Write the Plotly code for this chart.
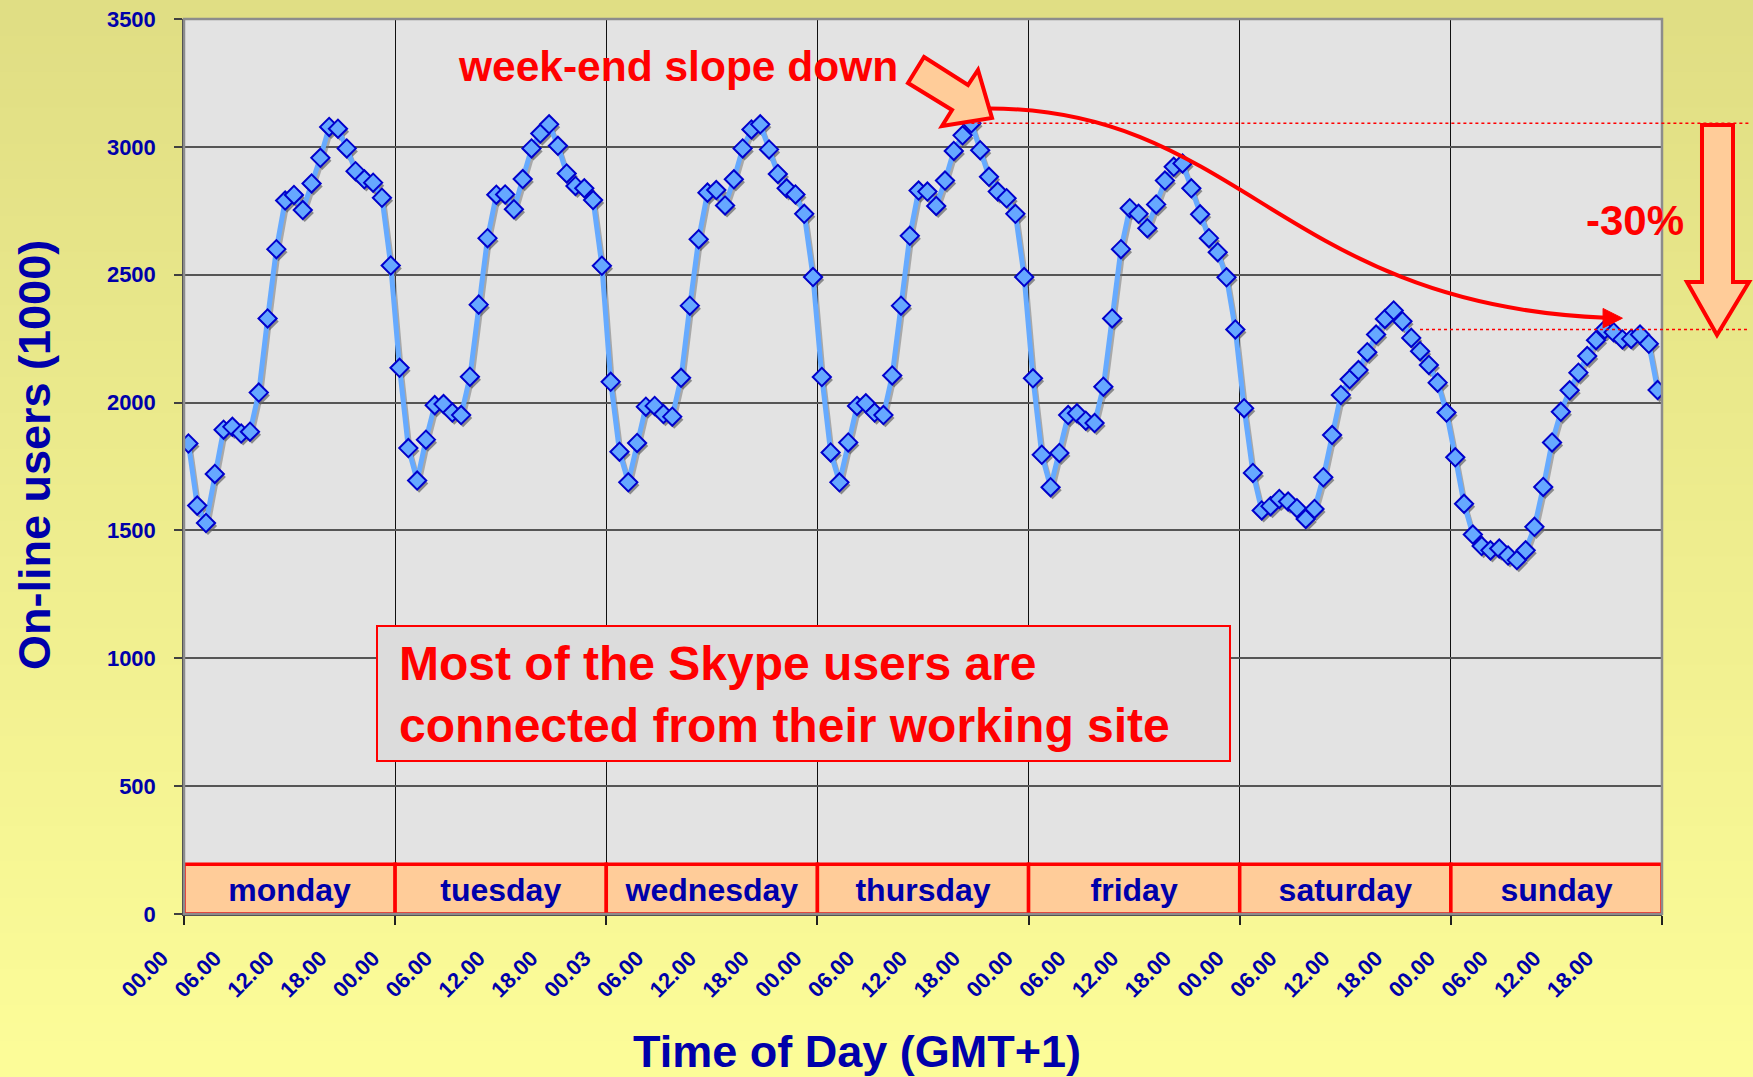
import numpy as np
import plotly.graph_objects as go

# on-line users (thousands), one value per hour, GMT+1
monday = [1840, 1597, 1529, 1721, 1894, 1905, 1879, 1886, 2039, 2329, 2600, 2790,
          2812, 2753, 2857, 2957, 3078, 3071, 2994, 2905, 2873, 2860, 2801, 2536]
tuesday = [2136, 1822, 1695, 1855, 1990, 1994, 1961, 1951, 2101, 2383, 2643, 2813,
           2814, 2756, 2874, 2994, 3052, 3088, 3004, 2896, 2847, 2838, 2792, 2535]
wednesday = [2081, 1808, 1688, 1842, 1984, 1987, 1955, 1945, 2097, 2379, 2639, 2821,
             2831, 2771, 2873, 2994, 3068, 3088, 2990, 2894, 2838, 2814, 2738, 2491]
thursday = [2100, 1805, 1688, 1844, 1987, 1997, 1961, 1951, 2106, 2379, 2652, 2829,
            2825, 2769, 2868, 2984, 3045, 3092, 2987, 2883, 2825, 2799, 2738, 2491]
friday = [2095, 1796, 1669, 1803, 1951, 1958, 1929, 1920, 2062, 2329, 2600, 2760,
          2738, 2682, 2775, 2868, 2922, 2935, 2838, 2736, 2643, 2588, 2490, 2286]
saturday = [1978, 1725, 1578, 1595, 1623, 1613, 1587, 1545, 1584, 1708, 1873, 2030,
            2091, 2127, 2197, 2266, 2327, 2360, 2318, 2253, 2201, 2147, 2078, 1961]
sunday = [1786, 1604, 1484, 1439, 1422, 1429, 1402, 1384, 1422, 1514, 1670, 1844,
          1964, 2048, 2117, 2182, 2244, 2286, 2275, 2247, 2249, 2266, 2230, 2049]

day_names = ["monday", "tuesday", "wednesday", "thursday", "friday", "saturday", "sunday"]
hour_labels = ["00.00", "06.00", "12.00", "18.00", "00.00", "06.00", "12.00", "18.00",
               "00.03", "06.00", "12.00", "18.00", "00.00", "06.00", "12.00", "18.00",
               "00.00", "06.00", "12.00", "18.00", "00.00", "06.00", "12.00", "18.00",
               "00.00", "06.00", "12.00", "18.00"]

week = [monday, tuesday, wednesday, thursday, friday, saturday, sunday]
users = np.concatenate(week)
n_hours = len(users)
hours = np.arange(n_hours) + 0.5          # each point sits in the middle of its hour
day_start = np.arange(len(week) + 1) * 24
Y_MAX = 3500

# figure size / plot area in pixels
W, H = 1753, 1077
L, R, T, B = 184, 91, 19, 163
PW, PH = W - L - R, H - T - B

def px(X, Y):
    # page pixel -> paper coords
    return (X - L) / PW, (H - B - Y) / PH

FONT = "Liberation Sans, Arial, sans-serif"
BLUE = "#0000AA"
RED = "#FF0000"

shapes = []

# yellow gradient background (page)
top_c = np.array([224, 222, 132])
bot_c = np.array([253, 253, 153])
n_strips = 60
for i in range(n_strips):
    y0, y1 = H * i / n_strips, H * (i + 1) / n_strips + 1
    c = top_c + (bot_c - top_c) * (i + 0.5) / n_strips
    x0p, y0p = px(0, y0)
    x1p, y1p = px(W, y1)
    shapes.append(dict(type="rect", xref="paper", yref="paper", layer="below",
                       x0=x0p, x1=x1p, y0=y1p, y1=y0p, line_width=0,
                       fillcolor="rgb(%d,%d,%d)" % tuple(c.astype(int))))

# plot area background
shapes.append(dict(type="rect", xref="paper", yref="paper", layer="below",
                   x0=0, x1=1, y0=0, y1=1, line_width=0, fillcolor="#E3E3E3"))

# day boxes along the bottom
for d in range(len(week)):
    shapes.append(dict(type="rect", xref="x", yref="y", layer="between",
                       x0=day_start[d], x1=day_start[d + 1], y0=0, y1=195,
                       fillcolor="#FFCC99", line=dict(color=RED, width=3.5)))

# plot border (gray, top and right visible)
shapes.append(dict(type="rect", xref="paper", yref="paper", layer="above",
                   x0=0, x1=1, y0=0, y1=1, line=dict(color="#8C8C8C", width=2.5)))

# dotted reference lines: weekday peak and sunday peak
peak_i = int(np.argmax(users))
x_end = px(1750, 0)[0]
shapes.append(dict(type="line", xref="paper", yref="y", layer="above",
                   x0=hours[peak_i] / n_hours, x1=x_end, y0=users.max(), y1=users.max(),
                   line=dict(color=RED, width=1.5, dash="dot")))
shapes.append(dict(type="line", xref="paper", yref="y", layer="above",
                   x0=px(1420, 0)[0], x1=x_end, y0=max(sunday), y1=max(sunday),
                   line=dict(color=RED, width=1.5, dash="dot")))

# curved "slope down" arrow
shapes.append(dict(type="path", xref="x", yref="y", layer="above",
                   path="M 91.5,3150 C 120,3150 125,2380 161.6,2332",
                   line=dict(color=RED, width=4)))
shapes.append(dict(type="path", xref="x", yref="y", layer="above",
                   path="M 163.5,2330 L 161.3,2368 L 161.3,2292 Z",
                   fillcolor=RED, line=dict(color=RED, width=1)))

def poly(points):
    pts = [px(X, Y) for X, Y in points]
    return "M " + " L ".join("%.5f,%.5f" % p for p in pts) + " Z"

# block arrow next to the "week-end slope down" text
shapes.append(dict(type="path", xref="paper", yref="paper", layer="above",
                   path=poly([(924, 57), (968, 85), (978, 70), (992, 118),
                              (942, 126), (952, 110), (908, 83)]),
                   fillcolor="#FFCC99", line=dict(color=RED, width=4)))

# big down arrow on the right (-30%)
shapes.append(dict(type="path", xref="paper", yref="paper", layer="above",
                   path=poly([(1702, 125), (1733, 125), (1733, 282), (1749, 282),
                              (1717, 335), (1687, 282), (1702, 282)]),
                   fillcolor="#FFCC99", line=dict(color=RED, width=4)))

# text box
bx0, by0 = px(377, 761)
bx1, by1 = px(1230, 626)
shapes.append(dict(type="rect", xref="paper", yref="paper", layer="above",
                   x0=bx0, x1=bx1, y0=by0, y1=by1,
                   fillcolor="#DCDCDC", line=dict(color=RED, width=2)))

fig = go.Figure()

# day names inside the boxes
fig.add_trace(go.Scatter(
    x=day_start[:-1] + 12, y=[84] * len(day_names), mode="text",
    text=day_names, xaxis="x2", yaxis="y",
    textfont=dict(family=FONT, size=32, color=BLUE, weight="bold"),
    hoverinfo="skip", showlegend=False))

# drop shadow of the series (same data, axes nudged a few pixels)
fig.add_trace(go.Scatter(
    x=hours, y=users, mode="lines+markers", xaxis="x3", yaxis="y2",
    line=dict(color="rgba(110,110,110,0.5)", width=4.5),
    marker=dict(symbol="diamond", size=14, color="rgba(100,100,100,0.7)", line_width=0),
    hoverinfo="skip", showlegend=False))

# the series
fig.add_trace(go.Scatter(
    x=hours, y=users, mode="lines+markers", xaxis="x4", yaxis="y",
    line=dict(color="#66AAFF", width=5),
    marker=dict(symbol="diamond", size=14, color="#66A8FF",
                line=dict(color="#0000CC", width=2)),
    hoverinfo="skip", showlegend=False))

annotations = [
    dict(text="week-end slope down", xref="paper", yref="paper",
         x=px(678, 0)[0], y=px(0, 66)[1], xanchor="center", yanchor="middle",
         showarrow=False, font=dict(family=FONT, size=42.5, color=RED, weight="bold")),
    dict(text="-30%", xref="paper", yref="paper",
         x=px(1635, 0)[0], y=px(0, 221)[1], xanchor="center", yanchor="middle",
         showarrow=False, font=dict(family=FONT, size=42, color=RED, weight="bold")),
    dict(text="Most of the Skype users are<br>connected from their working site",
         xref="paper", yref="paper", x=px(397, 0)[0], y=px(0, 694)[1],
         xanchor="left", yanchor="middle", align="left", showarrow=False,
         font=dict(family=FONT, size=48, color=RED, weight="bold")),
    dict(text="Time of Day (GMT+1)", xref="paper", yref="paper",
         x=px(857, 0)[0], y=px(0, 1051)[1], xanchor="center", yanchor="middle",
         showarrow=False, font=dict(family=FONT, size=45, color=BLUE, weight="bold")),
    dict(text="On-line users (1000)", xref="paper", yref="paper",
         x=px(34, 0)[0], y=px(0, 455)[1], xanchor="center", yanchor="middle",
         textangle=-90, showarrow=False,
         font=dict(family=FONT, size=45, color=BLUE, weight="bold")),
]

# pixel nudges for the shadow axes
sx = 2 * n_hours / PW
sy = 3 * Y_MAX / PH

fig.update_layout(
    width=W, height=H,
    margin=dict(l=L, r=R, t=T, b=B, pad=0, autoexpand=False),
    paper_bgcolor="#F0EE90",
    plot_bgcolor="rgba(0,0,0,0)",
    showlegend=False,
    hovermode=False,
    shapes=shapes,
    annotations=annotations,
    # main x axis: day boundaries, ticks and vertical grid
    xaxis=dict(range=[0, n_hours], tickmode="array", tickvals=day_start,
               showticklabels=False, ticks="outside", ticklen=9,
               tickcolor="#202020", tickwidth=1.5,
               showgrid=True, gridcolor="#111111", gridwidth=1.2, zeroline=False,
               showline=True, linecolor="#404040", linewidth=1.5, automargin=False),
    # hour labels every 6 hours
    xaxis2=dict(range=[0, n_hours], overlaying="x", anchor="y", side="bottom",
                tickmode="array", tickvals=np.arange(0, n_hours, 6),
                ticktext=hour_labels, tickangle=-45, ticks="", showgrid=False,
                zeroline=False, showline=False, automargin=False,
                ticklabelshift=-22, ticklabelstandoff=26,
                tickfont=dict(family=FONT, size=22, color=BLUE, weight="bold")),
    xaxis3=dict(range=[-sx, n_hours - sx], overlaying="x", anchor="y2",
                visible=False),
    xaxis4=dict(range=[0, n_hours], overlaying="x", anchor="y", visible=False),
    yaxis=dict(range=[0, Y_MAX], dtick=500, ticks="outside", ticklen=8,
               tickcolor="#404040", tickwidth=1.5,
               showgrid=True, gridcolor="#555555", gridwidth=1.5, zeroline=False,
               showline=True, linecolor="#404040", linewidth=1.5, automargin=False,
               ticklabelstandoff=14,
               tickfont=dict(family=FONT, size=22, color=BLUE, weight="bold")),
    yaxis2=dict(range=[sy, Y_MAX + sy], overlaying="y", anchor="x3", visible=False),
)

fig.write_html("out.html", config={"displayModeBar": False},
               post_script="document.body.style.margin='0';")
